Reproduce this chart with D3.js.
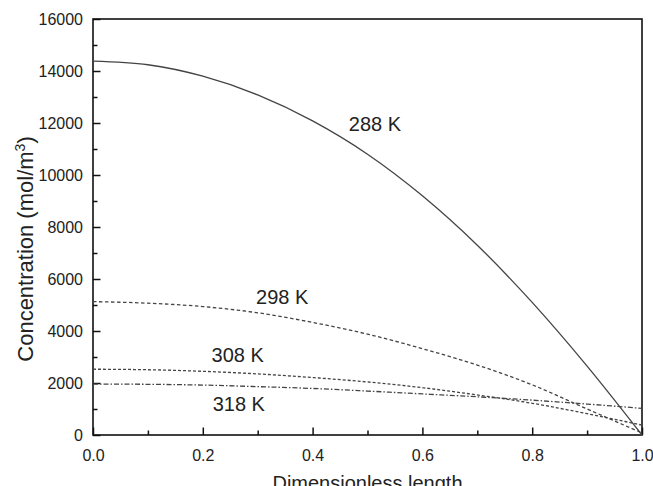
<!DOCTYPE html>
<html>
<head>
<meta charset="utf-8">
<title>Concentration profiles</title>
<style>
  body { margin: 0; background: #fff; }
  svg text { font-family: "Liberation Sans", Arial, sans-serif; fill: #222; }
</style>
</head>
<body>
<div class="container"></div>
<script src="https://d3js.org/d3.v7.min.js"></script>
<script>
// dimensionless length
var xs = [0, 0.1, 0.2, 0.3, 0.4, 0.5, 0.6, 0.7, 0.8, 0.9, 1.0]
// concentration (mol/m3)
var c288 = [14380, 14240, 13800, 13080, 12080, 10800, 9200, 7300, 5100, 2650, 0]
var c298 = [5130, 5070, 4940, 4700, 4330, 3880, 3320, 2690, 1930, 1000, 80]
var c308 = [2530, 2510, 2450, 2350, 2210, 2040, 1820, 1540, 1220, 820, 380]
var c318 = [1960, 1950, 1920, 1860, 1790, 1690, 1580, 1470, 1340, 1190, 1025]

var seriesNames = ["288 K", "298 K", "308 K", "318 K"]
var seriesVals = [c288, c298, c308, c318]
var dashes = [null, "3.5,2.5", "3,2", "5,2,1.5,2"]
// where the labels sit, in data units (x, y of baseline)
var labelX = [0.466, 0.297, 0.216, 0.218]
var labelY = [11690, 5040, 2820, 920]

var xMajor = [0, 0.2, 0.4, 0.6, 0.8, 1.0]
var xMinor = [0.1, 0.3, 0.5, 0.7, 0.9]
var yMajor = [0, 2000, 4000, 6000, 8000, 10000, 12000, 14000, 16000]
var yMinor = [1000, 3000, 5000, 7000, 9000, 11000, 13000, 15000]

var wd = 653, ht = 486
// plot box (note: "top" is taken by window.top, so use other names)
var pL = 93, pR = 642, pT = 19, pB = 435

var svg = d3.select(".container").append("svg")
  .attr("width", wd)
  .attr("height", ht)

var x = d3.scaleLinear().domain([0, 1]).range([pL, pR])
var y = d3.scaleLinear().domain([0, 16000]).range([pB, pT])

// minor ticks first, no labels
svg.append("g")
  .attr("transform", "translate(0," + pB + ")")
  .call(d3.axisBottom(x).tickValues(xMinor).tickSize(-4.5).tickSizeOuter(0).tickFormat(""))
svg.append("g")
  .attr("transform", "translate(" + pL + ",0)")
  .call(d3.axisLeft(y).tickValues(yMinor).tickSize(-4.5).tickSizeOuter(0).tickFormat(""))

svg.append("g")
  .attr("transform", "translate(0," + pB + ")")
  .call(d3.axisBottom(x).tickValues(xMajor).tickSize(-7.5).tickSizeOuter(0)
    .tickPadding(15).tickFormat(d3.format(".1f")))
svg.append("g")
  .attr("transform", "translate(" + pL + ",0)")
  .call(d3.axisLeft(y).tickValues(yMajor).tickSize(-7.5).tickSizeOuter(0)
    .tickPadding(10).tickFormat(d3.format("d")))

svg.selectAll(".domain").remove()
svg.selectAll(".tick line").attr("stroke", "#111").attr("stroke-width", 1.5)
svg.selectAll(".tick text").style("font-size", "16px").attr("fill", "#222")

// frame
svg.append("rect")
  .attr("x", pL).attr("y", pT)
  .attr("width", pR - pL).attr("height", pB - pT)
  .attr("fill", "none")
  .attr("stroke", "#111")
  .attr("stroke-width", 1.6)

var line = d3.line()
  .x(function(d) { return x(d[0]) })
  .y(function(d) { return y(d[1]) })
  .curve(d3.curveMonotoneX)

seriesVals.forEach(function(vals, i) {
  var pts = xs.map(function(v, j) { return [v, vals[j]] })
  svg.append("path")
    .attr("d", line(pts))
    .attr("fill", "none")
    .attr("stroke", "#444")
    .attr("stroke-width", 1.3)
    .attr("stroke-dasharray", dashes[i])
})

seriesNames.forEach(function(name, i) {
  svg.append("text")
    .attr("x", x(labelX[i]))
    .attr("y", y(labelY[i]))
    .style("font-size", "20px")
    .text(name)
})

// axis titles
svg.append("text")
  .attr("x", (pL + pR) / 2)
  .attr("y", 490)
  .attr("text-anchor", "middle")
  .style("font-size", "20px")
  .text("Dimensionless length")

var yt = svg.append("text")
  .attr("transform", "translate(33," + ((pT + pB) / 2 + 22) + ") rotate(-90)")
  .attr("text-anchor", "middle")
  .style("font-size", "22px")
yt.append("tspan").text("Concentration (mol/m")
yt.append("tspan").attr("baseline-shift", "super").style("font-size", "14px").text("3")
yt.append("tspan").text(")")
</script>
</body>
</html>
